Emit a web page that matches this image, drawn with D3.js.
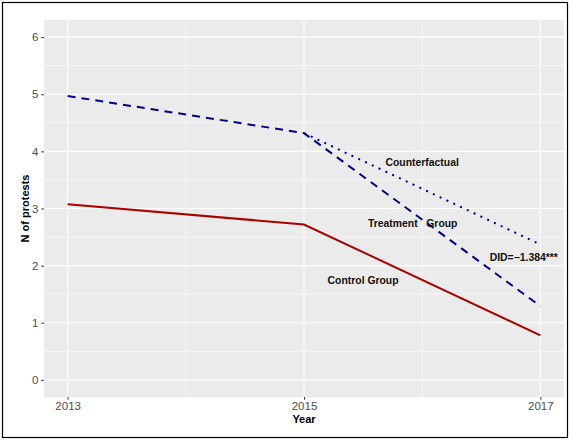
<!DOCTYPE html>
<html>
<head>
<meta charset="utf-8">
<script src="https://cdn.jsdelivr.net/npm/d3@7"></script>
<style>
  body { margin: 0; background: #fff; }
  svg { display: block; font-family: "Liberation Sans", Arial, sans-serif; }
</style>
</head>
<body>
<svg id="chart"></svg>
<script>
// values
const years = [2013, 2015, 2017]
const treatment = [4.97, 4.32, 1.29]
const control = [3.075, 2.72, 0.78]
const cfYears = [2015, 2017]
const counterfactual = [4.32, 2.37]
const yTicks = [0, 1, 2, 3, 4, 5, 6]

const labels = [
    { text: 'Counterfactual', year: 2016, y: 3.8 },
    { text: 'Treatment\u00a0\u00a0\u00a0Group', year: 2015.92, y: 2.74 },
    { text: 'Control Group', year: 2015.5, y: 1.74 },
    { text: 'DID=\u22121.384***', year: 2016.86, y: 2.15 }
]

const width = 570, height = 440
const panel = { left: 44, top: 20, right: 564, bottom: 397 }

const svg = d3.select('#chart').attr('width', width).attr('height', height)

// outer border
svg.append('rect')
    .attr('x', 2.5).attr('y', 2.5)
    .attr('width', width - 5).attr('height', height - 5)
    .attr('fill', '#fff').attr('stroke', '#000').attr('stroke-width', 1.2)

const x = d3.scaleLinear()
    .domain([2013 - 0.2, 2017 + 0.2])
    .range([panel.left, panel.right])

const y = d3.scaleLinear()
    .domain([-0.3, 6.3])
    .range([panel.bottom, panel.top])

svg.append('rect')
    .attr('x', panel.left).attr('y', panel.top)
    .attr('width', panel.right - panel.left)
    .attr('height', panel.bottom - panel.top)
    .attr('fill', '#EBEBEB')

// grid: minor then major
const g = svg.append('g')
;[2014, 2016].forEach(v => g.append('line')
    .attr('x1', x(v)).attr('x2', x(v)).attr('y1', panel.top).attr('y2', panel.bottom)
    .attr('stroke', '#fff').attr('stroke-width', 0.6))
;[0.5, 1.5, 2.5, 3.5, 4.5, 5.5].forEach(v => g.append('line')
    .attr('x1', panel.left).attr('x2', panel.right).attr('y1', y(v)).attr('y2', y(v))
    .attr('stroke', '#fff').attr('stroke-width', 0.6))
years.forEach(v => g.append('line')
    .attr('x1', x(v)).attr('x2', x(v)).attr('y1', panel.top).attr('y2', panel.bottom)
    .attr('stroke', '#fff').attr('stroke-width', 1.1))
yTicks.forEach(v => g.append('line')
    .attr('x1', panel.left).attr('x2', panel.right).attr('y1', y(v)).attr('y2', y(v))
    .attr('stroke', '#fff').attr('stroke-width', 1.1))

// axes
const xAxis = svg.append('g')
    .attr('transform', `translate(0,${panel.bottom})`)
    .call(d3.axisBottom(x).tickValues(years).tickFormat(d3.format('d')).tickSize(2.7).tickPadding(2))
const yAxis = svg.append('g')
    .attr('transform', `translate(${panel.left},0)`)
    .call(d3.axisLeft(y).tickValues(yTicks).tickFormat(d3.format('d')).tickSize(2.7).tickPadding(3))
;[xAxis, yAxis].forEach(a => {
    a.select('.domain').remove()
    a.selectAll('line').attr('stroke', '#333')
    a.selectAll('text').attr('fill', '#4D4D4D').attr('font-size', 11.5)
        .attr('font-family', '"Liberation Sans", Arial, sans-serif')
})

const line = d3.line().x(d => x(d[0])).y(d => y(d[1]))

svg.append('path')
    .datum(d3.zip(years, control))
    .attr('d', line).attr('fill', 'none')
    .attr('stroke', '#AA0000').attr('stroke-width', 2)

svg.append('path')
    .datum(d3.zip(cfYears, counterfactual))
    .attr('d', line).attr('fill', 'none')
    .attr('stroke', '#00008B').attr('stroke-width', 2)
    .attr('stroke-dasharray', '2,5.5')

svg.append('path')
    .datum(d3.zip(years, treatment))
    .attr('d', line).attr('fill', 'none')
    .attr('stroke', '#00008B').attr('stroke-width', 2)
    .attr('stroke-dasharray', '8,6')

svg.selectAll('.ann')
    .data(labels)
    .enter()
    .append('text')
    .attr('class', 'ann')
    .attr('x', d => x(d.year))
    .attr('y', d => y(d.y))
    .attr('dy', '0.35em')
    .attr('text-anchor', 'middle')
    .attr('font-size', 10.4)
    .attr('font-weight', 'bold')
    .attr('fill', '#111')
    .text(d => d.text)

// axis titles
svg.append('text')
    .attr('x', x(2015)).attr('y', 423)
    .attr('text-anchor', 'middle')
    .attr('font-size', 11).attr('font-weight', 'bold')
    .text('Year')

svg.append('text')
    .attr('transform', `translate(29,${(panel.top + panel.bottom) / 2}) rotate(-90)`)
    .attr('text-anchor', 'middle')
    .attr('font-size', 11).attr('font-weight', 'bold')
    .text('N of protests')
</script>
</body>
</html>
